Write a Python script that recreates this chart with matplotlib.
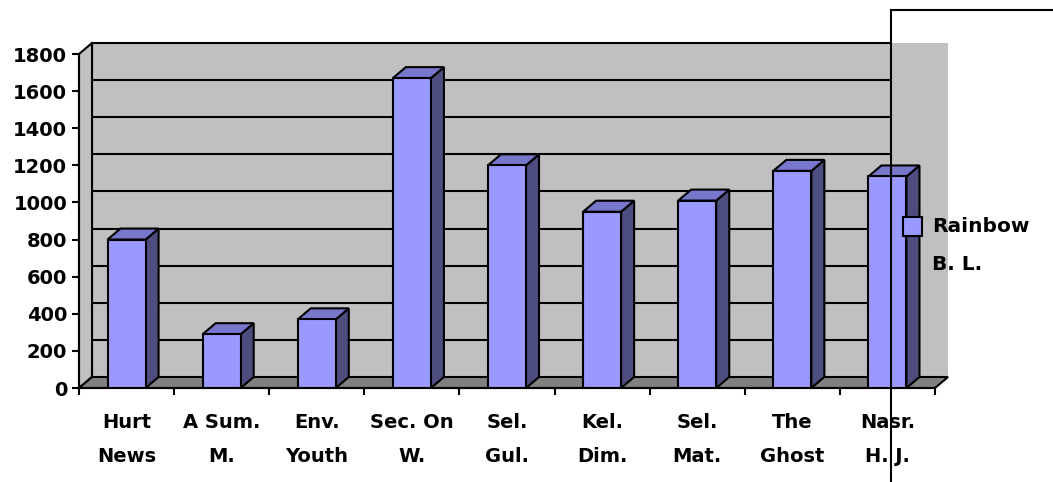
import matplotlib.pyplot as plt
import matplotlib.patches as mpatches
import matplotlib.transforms as mtransforms
import numpy as np

# data
titles = ["Hurt\nNews", "A Sum.\nM.", "Env.\nYouth", "Sec. On\nW.", "Sel.\nGul.",
          "Kel.\nDim.", "Sel.\nMat.", "The\nGhost", "Nasr.\nH. J."]
copies = [800, 290, 370, 1670, 1200, 950, 1010, 1170, 1140]
series_name = ["Rainbow", "B. L."]
y_ticks = [0, 200, 400, 600, 800, 1000, 1200, 1400, 1600, 1800]

DX, DY = 13, 11          # depth of the 3d box in pixels
FRONT = '#9999FF'
TOP = '#7777CC'
SIDE = '#4D4D80'
WALL = '#C0C0C0'
FLOOR = '#808080'
LW = 1.5

plt.rcParams['font.family'] = 'DejaVu Sans'
plt.rcParams['font.weight'] = 'bold'
plt.rcParams['font.size'] = 14

W, H = 1053, 482
fig = plt.figure(figsize=(W / 100, H / 100), dpi=100)
ax = fig.add_axes([79 / W, 94 / H, 856 / W, 334 / H])
ax.set_facecolor('none')

n = len(copies)
ymax = y_ticks[-1]
ax.set_xlim(0, n)
ax.set_ylim(0, ymax)

back = mtransforms.offset_copy(ax.transData, fig=fig, x=DX, y=DY, units='dots')
ident = mtransforms.IdentityTransform()


def poly(front_pts, back_pts, **kw):
    # polygon made of points on the front plane and on the back plane
    f = ax.transData.transform(front_pts)
    b = back.transform(back_pts)
    p = mpatches.Polygon(np.vstack([f, b]), closed=True, transform=ident,
                         clip_on=False, **kw)
    ax.add_patch(p)


# back wall + gridlines (gridlines stop at the legend frame)
ax.add_patch(mpatches.Rectangle((0, 0), n, ymax, transform=back, fc=WALL,
                                ec='none', zorder=0.5, clip_on=False))
legend_left = 891
x_cut = back.inverted().transform((legend_left, 0))[0]
ax.hlines(y_ticks[1:], 0, x_cut, transform=back, colors='k', lw=LW,
          zorder=0.8, clip_on=False)
ax.plot([0, 0], [0, ymax], transform=back, color='k', lw=LW, zorder=0.8,
        clip_on=False)

# left wall
poly([(0, 0), (0, ymax)], [(0, ymax), (0, 0)], fc=WALL, ec='k', lw=LW, zorder=1)
# floor
poly([(0, 0), (n, 0)], [(n, 0), (0, 0)], fc=FLOOR, ec='k', lw=LW, zorder=2)

# bars
bw = 0.4
xs = np.arange(n) + 0.5
ax.bar(xs, copies, width=bw, color=FRONT, edgecolor='k', linewidth=LW, zorder=4)
for x, v in zip(xs, copies):
    x0, x1 = x - bw / 2, x + bw / 2
    poly([(x1, 0), (x1, v)], [(x1, v), (x1, 0)], fc=SIDE, ec='k', lw=LW, zorder=3.5)
    poly([(x0, v), (x1, v)], [(x1, v), (x0, v)], fc=TOP, ec='k', lw=LW, zorder=3.5)

# axes
for s in ['top', 'right']:
    ax.spines[s].set_visible(False)
for s in ['left', 'bottom']:
    ax.spines[s].set_linewidth(LW)
ax.set_yticks(y_ticks)
ax.tick_params(axis='y', length=5, width=LW, pad=3.5, labelsize=14)
ax.set_xticks(range(n + 1))
ax.set_xticklabels([])
ax.tick_params(axis='x', which='major', length=5, width=LW)
ax.set_xticks(xs, minor=True)
ax.set_xticklabels(titles, minor=True, linespacing=2.0)
ax.tick_params(axis='x', which='minor', length=0, pad=18, labelsize=14)

# legend, drawn by hand to match the odd frame of the original
fig.add_artist(mpatches.Rectangle((legend_left, -20), 400, H - 10 + 20,
                                  transform=ident, fc='none', ec='k', lw=LW,
                                  zorder=10))
fig.add_artist(mpatches.Rectangle((903, H - 236), 19, 19, transform=ident,
                                  fc=FRONT, ec='k', lw=LW, zorder=10))
fig.text(932 / W, (H - 227) / H, series_name[0], va='center', ha='left',
         fontsize=14.5, fontweight='bold')
fig.text(932 / W, (H - 265) / H, series_name[1], va='center', ha='left',
         fontsize=14.5, fontweight='bold')

fig.savefig('out.png', dpi=100)
